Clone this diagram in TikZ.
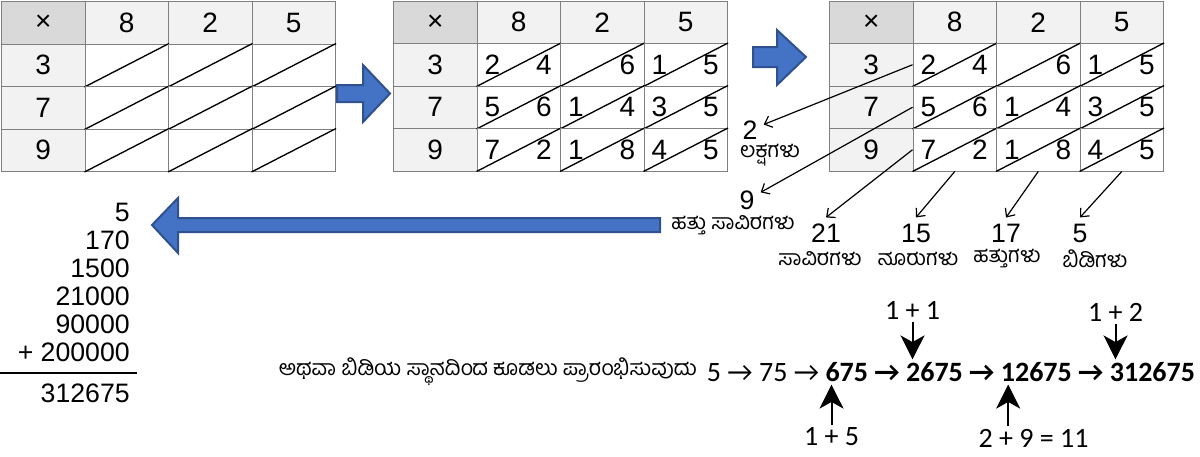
\documentclass[tikz,border=0pt]{standalone}
\usepackage{fontspec}
\setmainfont{Liberation Sans}
\newfontfamily\kannada[Script=Kannada]{Hind Mysuru}
\newfontfamily\calibri{Carlito}
\usetikzlibrary{arrows.meta}

\definecolor{gridline}{HTML}{808080}
\definecolor{headfill}{HTML}{F2F2F2}
\definecolor{cornerfill}{HTML}{D9D9D9}
\definecolor{blockfill}{HTML}{4472C4}
\definecolor{blockedge}{HTML}{2F528F}

\begin{document}
\begin{tikzpicture}[x=0.75pt, y=-0.75pt,
        cell/.style={rectangle, draw=gridline, line width=0.75pt, anchor=north west, minimum width=62.625pt, minimum height=31.875pt, inner sep=0pt, font=\fontsize{21}{21}\selectfont},
        headcell/.style={cell, fill=headfill},
        corner/.style={cell, fill=cornerfill},
        digit/.style={inner sep=0pt, font=\fontsize{21}{21}\selectfont},
        diag/.style={line width=1pt},
        bignum/.style={inner sep=4.5pt, font=\fontsize{20}{20}\selectfont},
        kan/.style={inner sep=1pt, font=\kannada\fontsize{16}{16}\selectfont},
        pointer/.style={-{Straight Barb[length=5pt, width=9pt]}, line width=0.9pt},
        bigpointer/.style={-{Stealth[length=18pt, width=18pt, inset=5pt]}, line width=1.5pt},
        blockarrow/.style={fill=blockfill, draw=blockedge, line width=1.5pt, line join=miter},
        sumcol/.style={inner sep=0pt, align=right, font=\fontsize{20}{21}\selectfont},
        calnum/.style={inner sep=2pt, font=\calibri\fontsize{21}{21}\selectfont}]

        \useasboundingbox (0,0) rectangle (1200,457);

        % Las tres tablas: cabeceras, celdas y diagonales
        \foreach \g/\gx/\gy in {A/1/1, B/393/0.5, C/829/0.5} {
            \node[corner] (\g-0-0) at (\gx,\gy) {×};
            \foreach \c/\m in {1/8, 2/2, 3/5}
                \node[headcell] (\g-0-\c) at (\gx+\c*83.5,\gy) {\m};
            \foreach \r/\m in {1/3, 2/7, 3/9}
                \node[headcell] (\g-\r-0) at (\gx,\gy+\r*42.5) {\m};
            \foreach \r in {1,2,3}
                \foreach \c in {1,2,3} {
                    \node[cell] (\g-\r-\c) at (\gx+\c*83.5,\gy+\r*42.5) {};
                    \draw[diag] (\g-\r-\c.south west) -- (\g-\r-\c.north east);
                }
        }

        % Productos parciales en la segunda y tercera tabla
        \foreach \g in {B,C}
            \foreach \r/\c/\t/\u in {1/1/2/4, 1/2//6, 1/3/1/5, 2/1/5/6, 2/2/1/4, 2/3/3/5, 3/1/7/2, 3/2/1/8, 3/3/4/5} {
                \node[digit] (\g-\r-\c-t) at ([xshift=12pt]\g-\r-\c.west) {\t};
                \node[digit] (\g-\r-\c-u) at ([xshift=-12.75pt]\g-\r-\c.east) {\u};
            }

        % Flechas de bloque entre las tablas y hacia la suma
        \coordinate (nextA) at (337,93.5);
        \draw[blockarrow] (nextA) ++(0,-8.5) -- ++(26,0) -- ++(0,-20) -- ++(27,28.5) -- ++(-27,28.5) -- ++(0,-20) -- ++(-26,0) -- cycle;
        \coordinate (nextB) at (753,57);
        \draw[blockarrow] (nextB) ++(0,-10) -- ++(24,0) -- ++(0,-17) -- ++(29,27) -- ++(-29,28) -- ++(0,-18) -- ++(-24,0) -- cycle;
        \coordinate (toSum) at (660,225);
        \draw[blockarrow] (toSum) ++(0,-7) -- ++(-482,0) -- ++(0,-20) -- ++(-26,27) -- ++(26,28) -- ++(0,-21) -- ++(482,0) -- cycle;

        % Sumas de las diagonales y sus nombres
        \node[bignum] (lakh) at (750,130) {2};
        \node[kan] (lakhname) at (770,155) {ಲಕ್ಷಗಳು};
        \node[bignum] (tenthou) at (747,200) {9};
        \node[kan] (tenthouname) at (733,225) {ಹತ್ತು ಸಾವಿರಗಳು};
        \node[bignum] (thou) at (826,233) {21};
        \node[bignum] (hund) at (916,233) {15};
        \node[bignum] (tens) at (1006,233) {17};
        \node[bignum] (ones) at (1080,233) {5};
        \node[kan] (thouname) at (820,259) {ಸಾವಿರಗಳು};
        \node[kan] (hundname) at (918,259) {ನೂರುಗಳು};
        \node[kan] (tensname) at (1007,259) {ಹತ್ತುಗಳು};
        \node[kan] (onesname) at (1095,259) {ಬಿಡಿಗಳು};

        % Flechas desde las diagonales
        \draw[pointer] (C-1-1.west) -- (lakh);
        \draw[pointer] (C-2-1.west) -- (tenthou);
        \draw[pointer] (C-3-1.west) -- (thou.north);
        \draw[pointer] (C-3-1.south) -- (hund.north);
        \draw[pointer] (C-3-2.south) -- (tens.north);
        \draw[pointer] (C-3-3.south) -- (ones.north);

        % Suma en columna
        \node[sumcol, anchor=north east] (addends) at (130,202.5) {5\\170\\1500\\21000\\90000\\+ 200000};
        \draw[line width=1.5pt] (0,373) -- (137,373);
        \node[sumcol, anchor=north east] (total) at (130,384) {312675};

        % Suma desde las unidades
        \node[calnum, anchor=west] (seq) at (704,372) {5 → 75 → \textbf{675 → 2675 → 12675 → 312675}};
        \node[kan, anchor=east, xshift=-4pt] (note) at (seq.west) {ಅಥವಾ ಬಿಡಿಯ ಸ್ಥಾನದಿಂದ ಕೂಡಲು ಪ್ರಾರಂಭಿಸುವುದು};
        \node[calnum] (carryA) at (912.5,310) {1 + 1};
        \node[calnum] (carryB) at (1115.5,312) {1 + 2};
        \node[calnum] (carryC) at (831.5,437) {1 + 5};
        \node[calnum] (carryD) at (1033.5,438) {2 + 9 = 11};
        \coordinate (carryDup) at ([xshift=-19pt]carryD.north);

        \draw[bigpointer] (carryA.south) -- (carryA.south |- seq.north);
        \draw[bigpointer] (carryB.south) -- (carryB.south |- seq.north);
        \draw[bigpointer] (carryC.north) -- (carryC.north |- seq.south);
        \draw[bigpointer] (carryDup) -- (carryDup |- seq.south);

    \end{tikzpicture}
\end{document}
